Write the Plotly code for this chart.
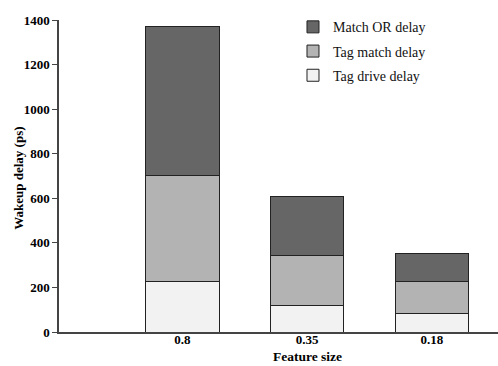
import plotly.graph_objects as go

categories = ["0.8", "0.35", "0.18"]
tag_drive = [227, 119, 85]
tag_match = [475, 226, 142]
match_or = [669, 261, 124]

series_names = ["Tag drive delay", "Tag match delay", "Match OR delay"]
series_values = [tag_drive, tag_match, match_or]
series_colors = ["#f2f2f2", "#b3b3b3", "#666666"]
legend_ranks = [3, 2, 1]

y_ticks = [0, 200, 400, 600, 800, 1000, 1200, 1400]

fig = go.Figure()
for name, vals, col, rank in zip(series_names, series_values, series_colors, legend_ranks):
    fig.add_trace(go.Bar(
        x=categories, y=vals, name=name, legendgroup=name, legendrank=rank,
        marker=dict(color=col, line=dict(color="#222222", width=1)),
        width=0.59,
    ))

font_family = "Liberation Serif"
fig.update_layout(
    barmode="stack",
    width=498, height=366,
    margin=dict(l=59, r=0, t=20, b=34, autoexpand=False),
    plot_bgcolor="white", paper_bgcolor="white",
    font=dict(family=font_family, color="black"),
    showlegend=True,
    legend=dict(
        traceorder="grouped", tracegroupgap=3,
        x=0.533, y=1.028, xanchor="left", yanchor="top",
        font=dict(family=font_family, size=14, color="#111111"),
        bgcolor="rgba(0,0,0,0)",
    ),
    xaxis=dict(
        type="category", range=[-0.99, 2.53], automargin=False,
        showline=True, linecolor="#444444", linewidth=1.5,
        ticks="", showgrid=False, ticklabelstandoff=-5,
        tickfont=dict(family=font_family, size=13, weight="bold"),
    ),
    yaxis=dict(
        range=[0, 1400], tickvals=y_ticks, automargin=False,
        showline=True, linecolor="#444444", linewidth=1.5,
        ticks="outside", ticklen=5, tickcolor="#444444",
        showgrid=False, zeroline=False,
        tickfont=dict(family=font_family, size=13, weight="bold"),
    ),
    annotations=[
        dict(text="Feature size", xref="paper", yref="paper",
             x=0.567, y=-0.080, xanchor="center", yanchor="middle",
             showarrow=False,
             font=dict(family=font_family, size=13.5, weight="bold")),
        dict(text="Wakeup delay (ps)", xref="paper", yref="paper",
             x=-0.0914, y=0.494, xanchor="center", yanchor="middle",
             textangle=-90, showarrow=False,
             font=dict(family=font_family, size=13, weight="bold")),
    ],
)

fig.write_html("out.html", config={"displayModeBar": False},
               post_script="document.body.style.margin='0';document.body.style.padding='0';")
